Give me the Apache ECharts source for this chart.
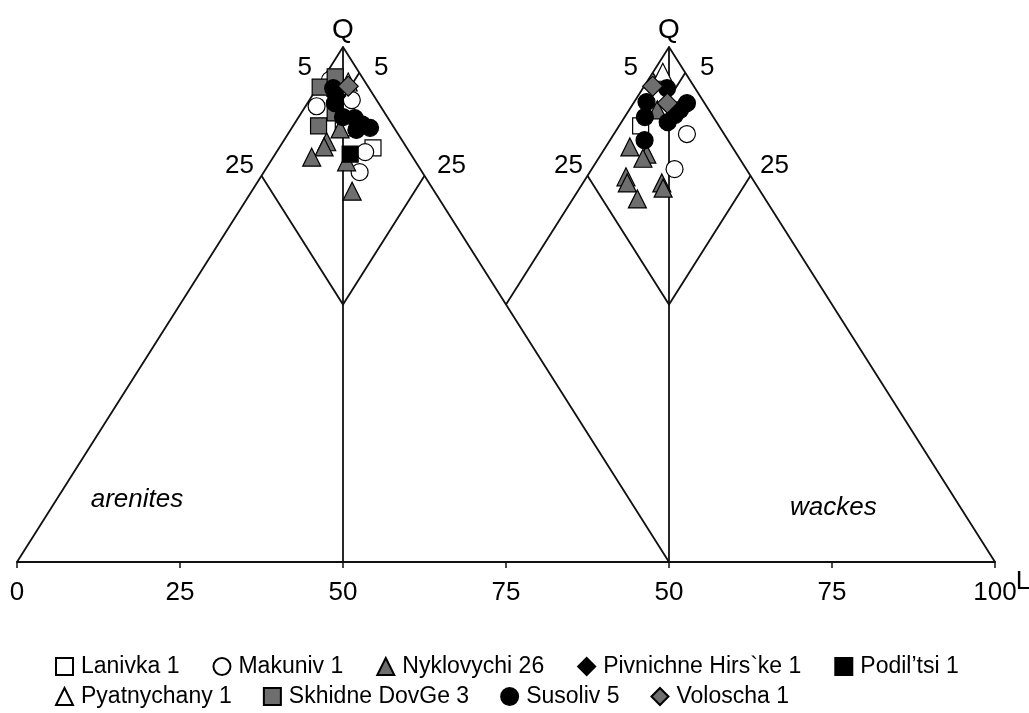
<!DOCTYPE html>
<html><head><meta charset="utf-8">
<script src="https://cdn.jsdelivr.net/npm/echarts@6/dist/echarts.min.js"></script>
<style>html,body{margin:0;padding:0;background:#fff}#c{width:1029px;height:713px}</style>
</head><body><div id="c"></div>
<script>
// ---- data (ternary values) ----
// base axis: 0..150 units; left triangle spans 0..100, right triangle 50..150
const axisTickLabels = ['0', '25', '50', '75', '50', '75', '100'];
const apexLabel = 'Q';
const cornerLabel = 'L';
const fieldNames = ['arenites', 'wackes'];
const boundaryValues = [5, 25];           // % of F or L at the field boundaries

const seriesNames = ['Lanivka 1', 'Makuniv 1', 'Nyklovychi 26', 'Pivnichne Hirs`ke 1', 'Podil\u2019tsi 1',
                     'Pyatnychany 1', 'Skhidne DovGe 3', 'Susoliv 5', 'Voloscha 1'];
// each sample: [Q %, L %, diagram (0 = arenites, 1 = wackes)]
const lanivka = [[80.4, 14.4, 0], [84.3, 7.9, 0], [84.7, 3.3, 1]];
const makuniv = [[93.6, 1.2, 0], [89.7, 6.5, 0], [88.5, 1.7, 0], [79.6, 13.6, 0], [75.7, 14.7, 0],
                 [83.1, 11.2, 1], [76.3, 12.7, 1]];
const nyklovychi = [[81.6, 6.7, 0], [80.6, 6.8, 0], [84.1, 7.5, 0], [78.6, 5.9, 0], [77.7, 11.7, 0], [72.0, 15.4, 0],
                    [87.8, 4.3, 1], [80.6, 3.7, 1], [79.2, 7.0, 1], [78.4, 6.8, 1], [74.8, 6.0, 1], [73.6, 6.8, 1],
                    [73.6, 12.1, 1], [72.6, 12.8, 1], [70.5, 9.9, 1]];
const pivnichne = [[90.5, 3.7, 0]];
const podiltsi = [[79.2, 11.5, 0]];
const pyatnychany = [[93.2, 4.2, 0], [95.1, 1.5, 1]];
const skhidne = [[92.2, 0.4, 0], [94.2, 1.7, 0], [84.7, 3.9, 0], [87.2, 5.2, 0]];
const susoliv = [[92.0, 2.5, 0], [89.1, 4.2, 0], [86.4, 6.8, 0], [86.2, 8.7, 0], [83.9, 10.1, 0], [84.3, 12.0, 0], [85.0, 10.4, 0],
                 [92.0, 3.7, 1], [89.3, 1.9, 1], [89.1, 8.2, 1], [87.8, 7.8, 1], [86.8, 7.5, 1], [85.4, 7.1, 1], [86.4, 3.1, 1], [81.9, 5.3, 1]];
const voloscha = [[92.4, 4.6, 0], [92.4, 1.3, 1], [89.1, 5.2, 1]];

// ---- helpers ----
function tern(q, l, d) { return [d * 50 + l + q / 2, q]; }
function toXY(arr) { return arr.map(p => tern(p[0], p[1], p[2])); }

const FONT = 'Liberation Sans, Arial, Helvetica, sans-serif';
const GREY = '#6e6e6e';
const INK = '#000';

// classification lines, per diagram
const lineData = [];
[0, 1].forEach(d => {
  if (d === 0) lineData.push({coords: [tern(0, 0, d), tern(100, 0, d), tern(0, 100, d)]});
  else lineData.push({coords: [tern(50, 0, d), tern(100, 0, d), tern(0, 100, d)]});
  lineData.push({coords: [tern(100, 0, d), tern(0, 50, d)]});
  boundaryValues.forEach(b => {
    lineData.push({coords: [tern(100 - b, 0, d), tern(100 - 2 * b, b, d), tern(100 - b, b, d)]});
  });
});

// text annotations
const annData = [];
[0, 1].forEach(d => {
  annData.push({value: tern(100, 0, d), label: {formatter: apexLabel, offset: [0, -17], fontSize: 28}});
  annData.push({value: tern(100 - boundaryValues[0], 0, d), label: {formatter: String(boundaryValues[0]), offset: [-22, -5]}});
  annData.push({value: tern(100 - boundaryValues[0], boundaryValues[0], d), label: {formatter: String(boundaryValues[0]), offset: [22, -5]}});
  annData.push({value: tern(100 - boundaryValues[1], 0, d), label: {formatter: String(boundaryValues[1]), offset: [d ? -19 : -22, -10]}});
  annData.push({value: tern(100 - boundaryValues[1], boundaryValues[1], d), label: {formatter: String(boundaryValues[1]), offset: [d ? 24 : 27, -10]}});
});
annData.push({value: tern(0, 100, 1), label: {formatter: cornerLabel, offset: [28, 20]}});
annData.push({value: [18.4, 12], label: {formatter: fieldNames[0], fontStyle: 'italic', fontSize: 26}});
annData.push({value: [125.2, 10.5], label: {formatter: fieldNames[1], fontStyle: 'italic', fontSize: 26}});

const styles = [
  {data: lanivka, symbol: 'rect', size: 16, fill: '#fff'},
  {data: makuniv, symbol: 'circle', size: 17, fill: '#fff'},
  {data: nyklovychi, symbol: 'triangle', size: 18, fill: GREY},
  {data: pivnichne, symbol: 'diamond', size: 19, fill: '#000'},
  {data: podiltsi, symbol: 'rect', size: 16, fill: '#000'},
  {data: pyatnychany, symbol: 'triangle', size: 18, fill: '#fff'},
  {data: skhidne, symbol: 'rect', size: 16, fill: GREY},
  {data: susoliv, symbol: 'circle', size: 17, fill: '#000'},
  {data: voloscha, symbol: 'diamond', size: 20, fill: GREY}
];

const series = [
  {type: 'lines', coordinateSystem: 'cartesian2d', polyline: true, silent: true, z: 1,
   lineStyle: {color: '#111', width: 1.8, opacity: 1}, data: lineData},
  {type: 'scatter', name: '_ann', symbolSize: 0, silent: true, z: 5,
   itemStyle: {opacity: 1},
   label: {show: true, position: 'inside', color: INK, opacity: 1, fontSize: 26, fontFamily: FONT},
   data: annData}
];
styles.forEach((s, i) => {
  series.push({type: 'scatter', name: seriesNames[i], symbol: s.symbol, symbolSize: s.size, z: 3,
    itemStyle: {color: s.fill, borderColor: '#000', borderWidth: 1.2, opacity: 1},
    data: toXY(s.data)});
});

const legendText = {fontSize: 23, color: INK, fontFamily: FONT, padding: [0, 0, 0, 3]};
const chart = echarts.init(document.getElementById('c'), null, {renderer: 'canvas'});
chart.setOption({
  backgroundColor: '#fff',
  animation: false,
  grid: {left: 17, right: 34, top: 47, bottom: 151, containLabel: false},
  xAxis: {type: 'value', min: 0, max: 150, interval: 25,
    axisLine: {lineStyle: {color: '#111', width: 2}},
    axisTick: {show: true, length: 6, lineStyle: {color: '#111', width: 1.5}},
    splitLine: {show: false},
    axisLabel: {fontSize: 26, color: INK, fontFamily: FONT, margin: 18,
      formatter: v => axisTickLabels[Math.round(v / 25)]}},
  yAxis: {type: 'value', min: 0, max: 100, show: false},
  legend: [
    {data: seriesNames.slice(0, 5), left: 50, top: 650, itemGap: 33, itemWidth: 17, itemHeight: 17,
     textStyle: legendText},
    {data: seriesNames.slice(5), left: 50, top: 680, itemGap: 31, itemWidth: 17, itemHeight: 17,
     textStyle: legendText}
  ],
  series: series
});
</script></body></html>
